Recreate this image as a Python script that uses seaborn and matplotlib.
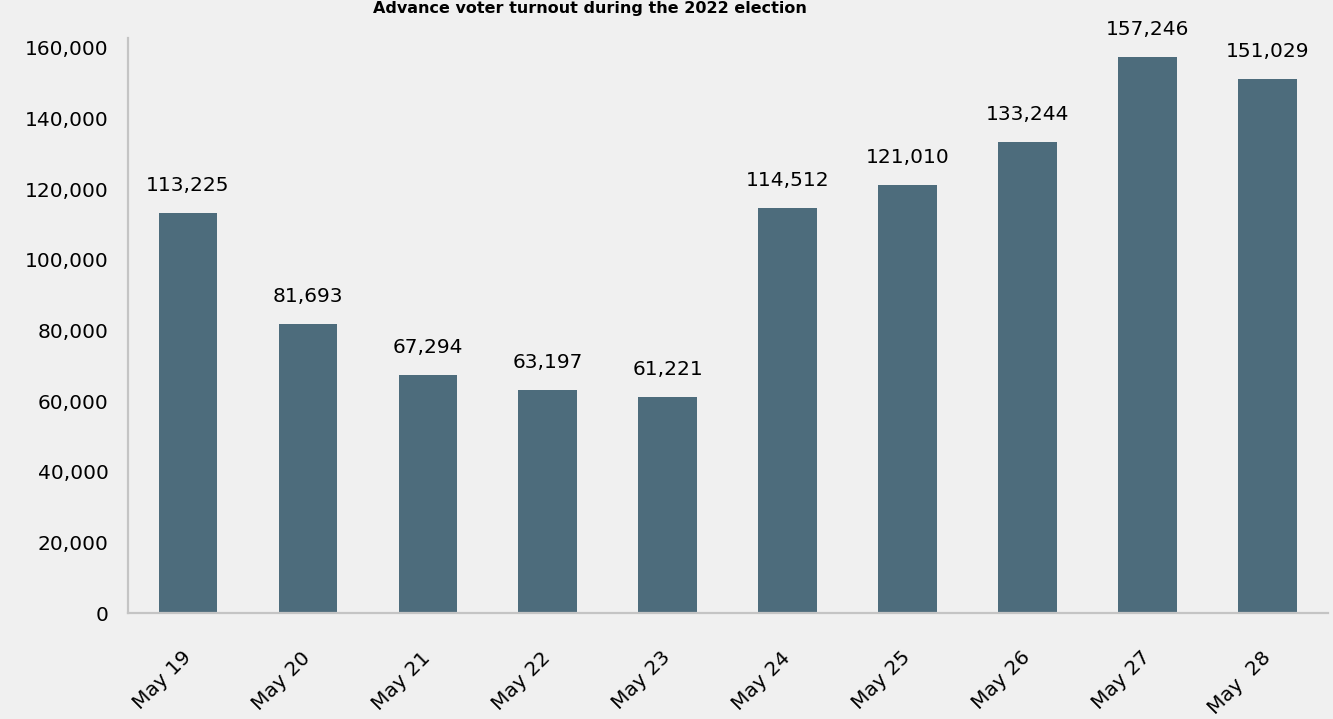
import matplotlib
matplotlib.use("Agg")
import matplotlib.pyplot as plt
import seaborn as sns
import pandas as pd

# Daily advance turnout, 2022 election
days = ["May 19", "May 20", "May 21", "May 22", "May 23",
        "May 24", "May 25", "May 26", "May 27", "May  28"]
voters = [113225, 81693, 67294, 63197, 61221,
          114512, 121010, 133244, 157246, 151029]
y_ticks = [0, 20000, 40000, 60000, 80000, 100000, 120000, 140000, 160000]

BG = "#f0f0f0"
BAR = "#4d6c7c"
SPINE = "#c4c4c4"

sns.set_theme(style="white")
plt.rcParams["font.family"] = ["DejaVu Sans"]

df = pd.DataFrame({"day": days, "voters": voters})

fig = plt.figure(figsize=(13.33, 7.19), dpi=100, facecolor=BG)
ax = fig.add_axes([0.096, 0.1474, 0.900, 0.800])
ax.set_facecolor(BG)

sns.barplot(data=df, x="day", y="voters", color=BAR, width=0.49,
            saturation=1, linewidth=0, edgecolor=BAR, ax=ax)

ax.set_xlim(-0.5, len(days) - 0.5)
ax.set_ylim(0, 162800)
ax.set_yticks(y_ticks)
ax.set_yticklabels([f"{v:,}" for v in y_ticks])
ax.set_xlabel("")
ax.set_ylabel("")

for side in ("top", "right"):
    ax.spines[side].set_visible(False)
for side in ("left", "bottom"):
    ax.spines[side].set_color(SPINE)
    ax.spines[side].set_linewidth(1.6)

ax.tick_params(axis="y", length=0, pad=14, labelsize=14.5, colors="black")
ax.tick_params(axis="x", length=0, pad=30, labelsize=14.5, colors="black")
for lbl in ax.get_xticklabels():
    lbl.set_rotation(45)
    lbl.set_ha("right")
    lbl.set_va("center")
    lbl.set_rotation_mode("anchor")

for i, v in enumerate(voters):
    ax.annotate(f"{v:,}", xy=(i, v), xytext=(0, 13),
                textcoords="offset points", ha="center", va="bottom",
                fontsize=14.5, color="black")

fig.text(0.4426, 0.998, "Advance voter turnout during the 2022 election",
         ha="center", va="top", fontsize=11.5, fontweight="bold",
         color="black")

fig.savefig("out.png", dpi=100, facecolor=BG)
